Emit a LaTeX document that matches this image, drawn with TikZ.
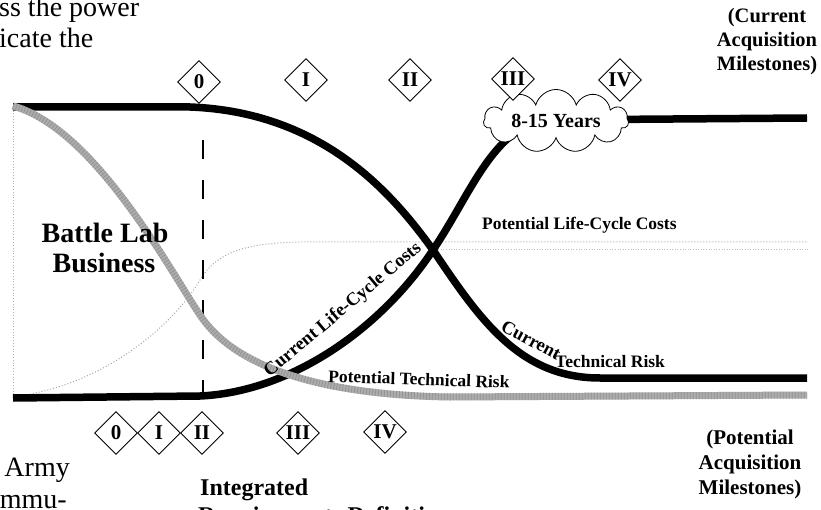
\documentclass[tikz,border=0pt]{standalone}
\usepackage{fontspec}
\setmainfont{Liberation Serif}
\usepackage{xcolor}
\usepackage{tikz}
\usetikzlibrary{shapes.geometric, shapes.symbols}

\begin{document}
\begin{tikzpicture}[x=1pt, y=-1pt]
      \tikzstyle{milestone} = [diamond, draw, fill=white, line width=0.9pt, minimum width=43pt, minimum height=43pt, inner sep=0pt, font=\fontsize{21}{21}\selectfont\bfseries]
      \tikzstyle{current} = [line width=7.5pt, black]
      \tikzstyle{potential} = [line width=7pt, gray!65]
      \tikzstyle{curvelabel} = [inner sep=0pt, font=\fontsize{17.5}{18}\selectfont\bfseries]
      \tikzstyle{bigbold} = [inner sep=0pt, font=\fontsize{20.5}{24}\selectfont\bfseries, align=center]
      \tikzstyle{bodytext} = [inner sep=0pt, font=\fontsize{28}{30}\selectfont]

      \useasboundingbox (0,0) rectangle (821,510);

      % axis and potential life-cycle costs
      \draw[gray!60, dotted, line width=0.8pt] (13,105) -- (13,400);
      \draw[gray!70, dotted, line width=1pt] (18,396) .. controls (100,385) and (170,330) .. (200,280)
            .. controls (215,255) and (240,243) .. (300,242) -- (808,242);
      \draw[gray!50, dotted, line width=0.6pt] (433,249) -- (808,249);
      \draw[line width=1.6pt, dash pattern=on 19pt off 21pt] (203,140) -- (203,398);

      % current curves
      \draw[current] (13,107) -- (190,107) .. controls (320,112) and (390,190) .. (433,250)
            .. controls (480,320) and (520,378) .. (600,378) -- (807,378);
      \draw[current] (13,398) -- (200,396) .. controls (290,392) and (380,330) .. (433,250)
            .. controls (470,195) and (490,135) .. (540,120) -- (807,118);
      \draw[potential] (13,106) .. controls (100,130) and (180,290) .. (205,322)
            .. controls (240,367) and (320,395) .. (450,397) -- (807,395);
      \draw[gray!85, line width=7pt, dash pattern=on 0.8pt off 2.2pt] (13,106) .. controls (100,130) and (180,290) .. (205,322)
            .. controls (240,367) and (320,395) .. (450,397) -- (807,395);

      \node[cloud, draw, fill=white, line width=0.8pt, cloud puffs=11, aspect=3.4, minimum width=145pt, minimum height=42pt, inner sep=0pt, font=\fontsize{20}{20}\selectfont\bfseries] (years) at (556,121) {8-15 Years};

      % milestones
      \node[milestone] (c0) at (199,82) {0};
      \node[milestone] (c1) at (306,80) {I};
      \node[milestone] (c2) at (410,80) {II};
      \node[milestone] (c3) at (513,79) {III};
      \node[milestone] (c4) at (620,80) {IV};
      \node[milestone] (p0) at (116,433) {0};
      \node[milestone] (p1) at (159,433) {I};
      \node[milestone] (p2) at (202,433) {II};
      \node[milestone] (p3) at (298,433) {III};
      \node[milestone] (p4) at (385,432) {IV};

      % labels
      \node[curvelabel, anchor=base west] (plcc) at (482,230) {Potential Life-Cycle Costs};
      \node[curvelabel, anchor=base west, rotate=-2] (ptr) at (328,382) {Potential Technical Risk};
      \node[curvelabel, font=\fontsize{18.5}{19}\selectfont\bfseries, rotate=40] (clcc) at (343,310) {Current Life-Cycle Costs};
      \node[curvelabel, font=\fontsize{18.5}{19}\selectfont\bfseries, rotate=-28] (ctr1) at (531,340) {Current};
      \node[curvelabel, anchor=base west] (ctr2) at (555,367) {Technical Risk};

      \node[bodytext, font=\fontsize{28}{30}\selectfont\bfseries, anchor=base] (battle) at (105,243) {Battle Lab};
      \node[bodytext, font=\fontsize{28}{30}\selectfont\bfseries, anchor=base] (business) at (104,273) {Business};

      \node[bigbold, anchor=north] (curms) at (767,8) {(Current\\Acquisition\\Milestones)};
      \node[bigbold, font=\fontsize{21}{25}\selectfont\bfseries, anchor=north] (potms) at (750,430) {(Potential\\Acquisition\\Milestones)};

      \node[bigbold, font=\fontsize{24}{24}\selectfont\bfseries, anchor=base west] (integ) at (200,495) {Integrated};
      \node[bigbold, font=\fontsize{24}{24}\selectfont\bfseries, anchor=base west] (reqdef) at (198,523) {Requirements Definition};

      \node[bodytext, anchor=base west] (power) at (-1,17) {ss the power};
      \node[bodytext, anchor=base west] (indicate) at (-1,48) {icate the};
      \node[bodytext, anchor=base east] (army) at (70,476) {Army};
      \node[bodytext, anchor=base east] (commu) at (67,508) {ommu-};
\end{tikzpicture}
\end{document}
